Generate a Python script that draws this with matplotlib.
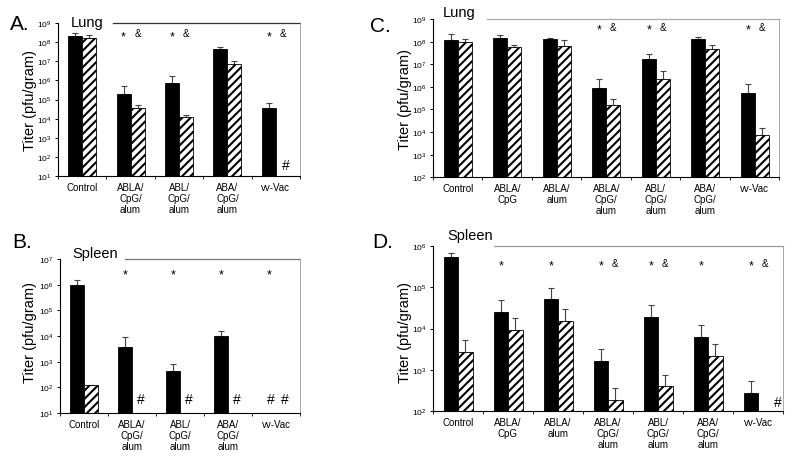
import numpy as np
import matplotlib
matplotlib.use('Agg')
import matplotlib.pyplot as plt
from matplotlib.transforms import offset_copy

plt.rcParams['font.family'] = ['Liberation Sans', 'DejaVu Sans']
plt.rcParams['mathtext.default'] = 'regular'
plt.rcParams['hatch.linewidth'] = 1.5

# ---- data (titer, pfu/gram) ----
groups5 = ['Control', 'ABLA/\nCpG/\nalum', 'ABL/\nCpG/\nalum', 'ABA/\nCpG/\nalum', 'vv-Vac']
groups7 = ['Control', 'ABLA/\nCpG', 'ABLA/\nalum', 'ABLA/\nCpG/\nalum',
           'ABL/\nCpG/\nalum', 'ABA/\nCpG/\nalum', 'vv-Vac']

nan = np.nan

# A. lung
a_solid = [2.2e8, 1.9e5, 7.6e5, 4.5e7, 3.7e4]
a_solid_err = [7e7, 3.0e5, 1.0e6, 1.3e7, 3.2e4]
a_hatch = [1.6e8, 3.7e4, 1.2e4, 6.9e6, nan]
a_hatch_err = [7e7, 1.4e4, 4e3, 3.8e6, nan]
a_star = [0, 1, 1, 0, 1]
a_amp = [0, 1, 1, 0, 1]
a_nd = [(4, 1)]  # (group, series 0=solid 1=hatched) below detection

# B. spleen
b_solid = [9.5e5, 3.6e3, 450, 1.0e4, nan]
b_solid_err = [5.5e5, 5.3e3, 380, 5.7e3, nan]
b_hatch = [124, nan, nan, nan, nan]
b_hatch_err = [nan, nan, nan, nan, nan]
b_star = [0, 1, 1, 1, 1]
b_amp = [0, 0, 0, 0, 0]
b_nd = [(1, 1), (2, 1), (3, 1), (4, 0), (4, 1)]

# C. lung
c_solid = [1.18e8, 1.5e8, 1.35e8, 9.3e5, 1.67e7, 1.3e8, 5.4e5]
c_solid_err = [1.0e8, 4e7, 1.5e7, 1.4e6, 1.3e7, 3.6e7, 8.6e5]
c_hatch = [9.4e7, 5.6e7, 6.5e7, 1.6e5, 2.2e6, 4.6e7, 7.8e3]
c_hatch_err = [3.6e7, 1.8e7, 5.5e7, 1.2e5, 2.8e6, 2.3e7, 7.0e3]
c_star = [0, 0, 0, 1, 1, 0, 1]
c_amp = [0, 0, 0, 1, 1, 0, 1]
c_nd = []

# D. spleen
d_solid = [5.4e5, 2.5e4, 5.1e4, 1.6e3, 1.9e4, 6.3e3, 270]
d_solid_err = [1.4e5, 2.4e4, 4.7e4, 1.6e3, 1.8e4, 5.9e3, 255]
d_hatch = [2.7e3, 9.2e3, 1.5e4, 190, 400, 2.2e3, nan]
d_hatch_err = [2.7e3, 8.8e3, 1.4e4, 180, 360, 2.0e3, nan]
d_star = [0, 1, 1, 1, 1, 1, 1]
d_amp = [0, 0, 0, 1, 1, 0, 1]
d_nd = [(6, 1)]


def px(x, y):
    return x / 800, 1 - y / 460


def draw_panel(ax, labels, solid, solid_err, hatch, hatch_err, ylim, w,
               star, amp, sig_y, nd, nd_y, nd_dx, title, line_start, line_color):
    n = len(labels)
    x = np.arange(n)
    ax.set_yscale('log')
    solid = np.array(solid, float)
    hatch = np.array(hatch, float)
    ms = ~np.isnan(solid)
    mh = ~np.isnan(hatch)
    xs = x - w / 2
    xh = x + w / 2
    ax.errorbar(xs[ms], solid[ms], yerr=[np.zeros(ms.sum()), np.array(solid_err)[ms]],
                fmt='none', ecolor='#444444', elinewidth=0.8, capsize=2.2, capthick=0.8, zorder=1)
    ax.errorbar(xh[mh], hatch[mh], yerr=[np.zeros(mh.sum()), np.nan_to_num(np.array(hatch_err)[mh])],
                fmt='none', ecolor='#444444', elinewidth=0.8, capsize=2.2, capthick=0.8, zorder=1)
    ax.bar(xs[ms], solid[ms], w, color='black', edgecolor='black', linewidth=0.6, zorder=2)
    ax.bar(xh[mh], hatch[mh], w, color='white', edgecolor='black', hatch='////',
           linewidth=0.6, zorder=2)

    # asterisk glyph sits high in the em box, nudge it down a little
    star_tr = offset_copy(ax.transData, fig=ax.figure, y=-3, units='dots')
    for i in range(n):
        if star[i]:
            ax.text(xs[i], sig_y, '*', ha='center', va='center', fontsize=9,
                    transform=star_tr)
        if amp[i]:
            ax.text(xh[i], sig_y, '&', ha='center', va='center', fontsize=7)
    for g, s in nd:
        xx = (xs if s == 0 else xh)[g] + nd_dx
        ax.text(xx, nd_y, '#', ha='center', va='center', fontsize=10)

    ax.set_xlim(-0.5, n - 0.5)
    ax.set_ylim(*ylim)
    ax.set_xticks(x)
    ax.set_xticklabels(labels, fontsize=7, linespacing=1.15)
    ax.set_xticks(np.arange(n + 1) - 0.5, minor=True)
    ax.tick_params(axis='x', which='major', length=0, pad=4)
    ax.tick_params(axis='x', which='minor', length=2.5, width=0.6, direction='out')
    ax.tick_params(axis='y', which='major', labelsize=6, length=2.5, width=0.7, direction='out', pad=2)
    ax.tick_params(axis='y', which='minor', length=0)
    ax.set_yticks([10.0 ** k for k in range(int(np.log10(ylim[0])), int(np.log10(ylim[1])) + 1)])

    ax.spines['top'].set_visible(False)
    ax.spines['right'].set_color('#9a9a9a')
    ax.spines['right'].set_linewidth(0.6)
    ax.spines['left'].set_linewidth(0.8)
    ax.spines['bottom'].set_linewidth(0.8)
    ax.plot([line_start, 1], [1, 1], transform=ax.transAxes, color=line_color,
            lw=0.9, clip_on=False)
    ax.text(title[1], title[2], title[0], transform=ax.transAxes, fontsize=10.5,
            ha='left', va='baseline')


fig = plt.figure(figsize=(8, 4.6), dpi=100)

axA = fig.add_axes([0.0725, 0.6152, 0.3025, 0.3326])
draw_panel(axA, groups5, a_solid, a_solid_err, a_hatch, a_hatch_err, (1e1, 1e9), 0.29,
           a_star, a_amp, 3e8, a_nd, 39, 0.06, ('Lung', 0.054, 0.98), 0.227, '#333333')
axA.set_ylabel('Titer (pfu/gram)', fontsize=10.5)
axA.yaxis.set_label_coords(-0.087, 0.5)

axB = fig.add_axes([0.075, 0.1, 0.30, 0.3348])
draw_panel(axB, groups5, b_solid, b_solid_err, b_hatch, b_hatch_err, (1e1, 1e7), 0.29,
           b_star, b_amp, 3.2e6, b_nd, 35, 0.03, ('Spleen', 0.053, 1.01), 0.27, '#777777')
axB.set_ylabel('Titer (pfu/gram)', fontsize=10.5)
axB.yaxis.set_label_coords(-0.096, 0.53)

axC = fig.add_axes([0.54125, 0.6124, 0.4331, 0.3441])
draw_panel(axC, groups7, c_solid, c_solid_err, c_hatch, c_hatch_err, (1e2, 1e9), 0.28,
           c_star, c_amp, 4.6e8, c_nd, 100, 0.0, ('Lung', 0.029, 1.02), 0.156, '#aaaaaa')
axC.set_ylabel('Titer (pfu/gram)', fontsize=10.5)
axC.yaxis.set_label_coords(-0.061, 0.5)

axD = fig.add_axes([0.54125, 0.1043, 0.4375, 0.3587])
draw_panel(axD, groups7, d_solid, d_solid_err, d_hatch, d_hatch_err, (1e2, 1e6), 0.29,
           d_star, d_amp, 3.9e5, d_nd, 166, 0.25, ('Spleen', 0.04, 1.04), 0.174, '#999999')
axD.set_ylabel('Titer (pfu/gram)', fontsize=10.5)
axD.yaxis.set_label_coords(-0.06, 0.48)

for lab, (xx, yy) in zip(['A.', 'B.', 'C.', 'D.'], [(10, 24), (12, 243), (370, 27), (372, 243)]):
    fig.text(*px(xx, yy), lab, fontsize=15, ha='left', va='center')

fig.savefig('out.png', dpi=100, facecolor='white')
